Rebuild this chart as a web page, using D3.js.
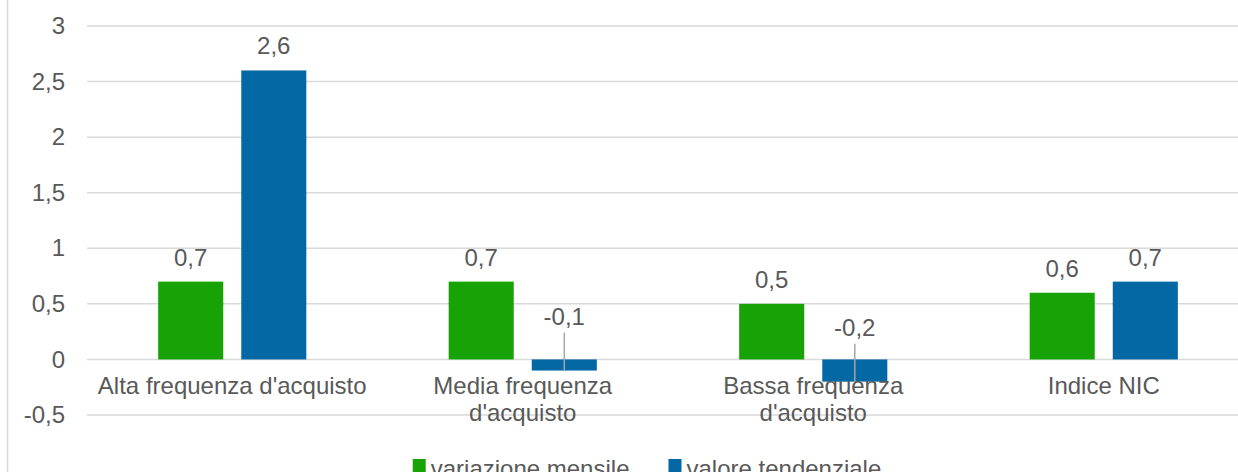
<!DOCTYPE html>
<html>
<head>
<meta charset="utf-8">
<script src="https://cdn.jsdelivr.net/npm/d3@7"></script>
<style>
  body { margin: 0; background: #fff; }
  svg { display: block; font-family: "Liberation Sans", Arial, sans-serif; }
  .lbl { fill: #595959; font-size: 24px; }
</style>
</head>
<body>
<svg id="chart" width="1238" height="472"></svg>
<script>
var categories = ["Alta frequenza d'acquisto", "Media frequenza d'acquisto", "Bassa frequenza d'acquisto", "Indice NIC"];
var seriesNames = ["variazione mensile", "valore tendenziale"];
var variazioneMensile = [0.7, 0.7, 0.5, 0.6];
var valoreTendenziale = [2.6, -0.1, -0.2, 0.7];
var yTicks = [-0.5, 0, 0.5, 1, 1.5, 2, 2.5, 3];
var colors = ["#17a305", "#0368a3"];

var svg = d3.select("#chart"),
    width = +svg.attr("width"),
    height = +svg.attr("height");

var fmt = function(v) { return String(v).replace(".", ","); };

var data = categories.map(function(c, i) {
    return {cat: c, values: [
        {s: 0, v: variazioneMensile[i]},
        {s: 1, v: valoreTendenziale[i]}
    ]};
});

var x0 = d3.scaleBand()
    .domain(categories)
    .range([87, 1249])
    .paddingInner(0.49)
    .paddingOuter(0.245);

var x1 = d3.scaleBand()
    .domain([0, 1])
    .range([0, x0.bandwidth()])
    .paddingInner(0.217);

var y = d3.scaleLinear()
    .domain([-0.5, 3])
    .range([415, 26]);

var mid = function(d) { return x1(d.s) + x1.bandwidth() / 2; };

// outer border on the left
svg.append("line")
    .attr("x1", 7.5).attr("x2", 7.5)
    .attr("y1", 0).attr("y2", height)
    .attr("stroke", "#d9d9d9")
    .attr("stroke-width", 1.5);

// gridlines
svg.append("g")
    .selectAll("line")
    .data(yTicks)
    .enter()
    .append("line")
    .attr("x1", 87).attr("x2", width)
    .attr("y1", function(d) { return y(d); })
    .attr("y2", function(d) { return y(d); })
    .attr("stroke", "#d9d9d9")
    .attr("stroke-width", 1.5);

// y axis labels
var yAxis = d3.axisLeft(y)
    .tickValues(yTicks)
    .tickSize(0)
    .tickPadding(0)
    .tickFormat(fmt);

var gy = svg.append("g")
    .attr("transform", "translate(65,0)")
    .call(yAxis);
gy.select(".domain").remove();
gy.selectAll("text")
    .attr("class", "lbl")
    .attr("font-family", null)
    .attr("font-size", null)
    .attr("fill", null);

// bars
var groups = svg.append("g")
    .selectAll("g")
    .data(data)
    .enter()
    .append("g")
    .attr("transform", function(d) { return "translate(" + x0(d.cat) + ",0)"; });

groups.selectAll("rect")
    .data(function(d) { return d.values; })
    .enter()
    .append("rect")
    .attr("x", function(d) { return x1(d.s); })
    .attr("width", x1.bandwidth())
    .attr("y", function(d) { return y(Math.max(0, d.v)); })
    .attr("height", function(d) { return Math.abs(y(d.v) - y(0)); })
    .attr("fill", function(d) { return colors[d.s]; });

// data labels
groups.selectAll("text")
    .data(function(d) { return d.values; })
    .enter()
    .append("text")
    .attr("class", "lbl")
    .attr("text-anchor", "middle")
    .attr("x", mid)
    .attr("y", function(d) { return d.v >= 0 ? y(d.v) - 16 : y(d.v) - 46; })
    .text(function(d) { return fmt(d.v); });

// leader lines for negative labels
groups.selectAll("line.leader")
    .data(function(d) { return d.values.filter(function(e) { return e.v < 0; }); })
    .enter()
    .append("line")
    .attr("class", "leader")
    .attr("x1", mid)
    .attr("x2", mid)
    .attr("y1", function(d) { return y(d.v) - 38; })
    .attr("y2", function(d) { return y(d.v); })
    .attr("stroke", "#a6a6a6")
    .attr("stroke-width", 1.5);

// category labels, wrapped to the band width
var catText = svg.append("g")
    .selectAll("text")
    .data(categories)
    .enter()
    .append("text")
    .attr("class", "lbl")
    .attr("text-anchor", "middle")
    .attr("x", function(d) { return x0(d) + x0.bandwidth() / 2; })
    .attr("y", 394);

catText.each(function(d) {
    var t = d3.select(this),
        words = d.split(" "),
        maxW = x0.step() - 8,
        line = [],
        cx = t.attr("x"),
        span = t.append("tspan").attr("x", cx);
    words.forEach(function(w) {
        line.push(w);
        span.text(line.join(" "));
        if (span.node().getComputedTextLength() > maxW && line.length > 1) {
            line.pop();
            span.text(line.join(" "));
            line = [w];
            span = t.append("tspan").attr("x", cx).attr("dy", 27).text(w);
        }
    });
});

// legend (cut by the bottom edge, as in the original)
var legend = svg.append("g");
var items = legend.selectAll("g")
    .data(seriesNames)
    .enter()
    .append("g");

items.append("rect")
    .attr("width", 13)
    .attr("height", 13)
    .attr("fill", function(d, i) { return colors[i]; });

items.append("text")
    .attr("class", "lbl")
    .attr("x", 18)
    .attr("y", 18)
    .text(function(d) { return d; });

var xpos = 0;
items.each(function(d) {
    var w = this.getBBox().width;
    d3.select(this).attr("transform", "translate(" + xpos + ",0)");
    xpos += w + 39;
});
var legendW = xpos - 39;
legend.attr("transform", "translate(" + (647 - legendW / 2) + ",459)");
</script>
</body>
</html>
